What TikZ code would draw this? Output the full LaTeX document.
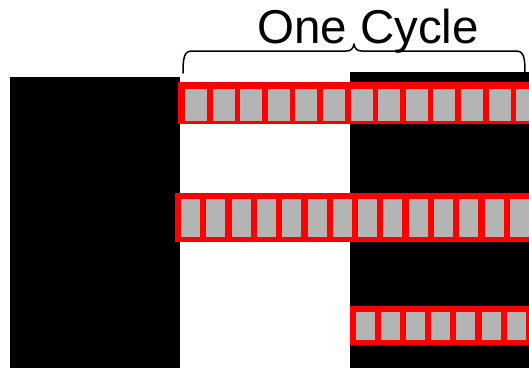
\documentclass[tikz,border=0pt]{standalone}
\usepackage{fontspec}
\setmainfont{Liberation Sans}
\definecolor{cellgray}{RGB}{180,180,180}
\definecolor{bandred}{RGB}{255,0,0}
\begin{document}
\begin{tikzpicture}[x=1pt,y=-1pt,
  block/.style={fill=black},
  band/.style={fill=bandred},
  cell/.style={fill=cellgray},
  bracestroke/.style={draw=black,line width=1.5pt,line join=round,line cap=round}]
\useasboundingbox (0,0) rectangle (529,368);
\clip (0,0) rectangle (529,368);

% two dark phases
\fill[block] (10,77) rectangle (180,368);
\fill[block] (350,72) rectangle (529,368);

% first row of cells
\fill[band] (178,82) rectangle (535,124);
\foreach \i in {0,...,12}
  \fill[cell] ({185+27.6*\i},89) rectangle ++(22,32);

% second row of cells
\fill[band] (175,193) rectangle (535,242);
\foreach \i in {0,...,13}
  \fill[cell] ({181+25.3*\i},199) rectangle ++(19,38);

% third row of cells
\fill[band] (350,306) rectangle (535,345);
\foreach \i in {0,...,6}
  \fill[cell] ({356+25.1*\i},312) rectangle ++(19,28);

% brace spanning one cycle
\draw[bracestroke] (183,73) .. controls (183,58) and (184,51) .. (192,51)
  -- (346,51) .. controls (351,51) and (353,49) .. (354,44)
  .. controls (355,49) and (357,51) .. (362,51)
  -- (516,51) .. controls (524,51) and (525,58) .. (525,73);

\node[anchor=base,inner sep=0pt,font=\fontsize{47.5}{47.5}\selectfont] (label) at (368,43) {One Cycle};
\end{tikzpicture}
\end{document}
